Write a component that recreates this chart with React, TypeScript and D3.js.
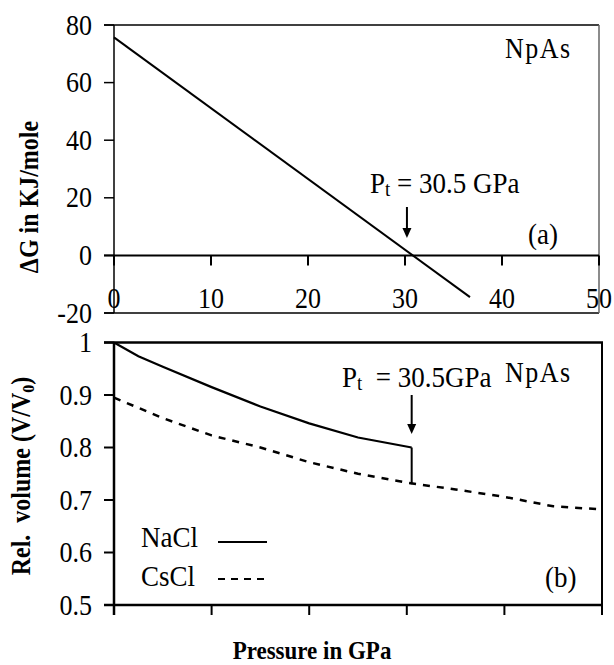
import React from "react";
import * as d3 from "d3";

// ---- Data ----
const pressureTicks = [0, 10, 20, 30, 40, 50];
const gTicks = [-20, 0, 20, 40, 60, 80];
const vTicks = [0.5, 0.6, 0.7, 0.8, 0.9, 1];

const dGPressure = [0, 36.7];
const dGValues = [75.7, -14.5];

const naclPressure = [0, 2.5, 5, 10, 15, 20, 25, 30.5];
const naclVolume = [1.0, 0.974, 0.954, 0.915, 0.878, 0.846, 0.819, 0.8];

const cscPressure = [0, 5, 10, 15, 20, 25, 30, 35, 40, 45, 50];
const csclVolume = [0.895, 0.856, 0.823, 0.8, 0.772, 0.75, 0.733, 0.72, 0.706, 0.688, 0.682];

const transitionPressure = 30.5;
const transitionVolumes = [0.8, 0.73];

const FONT = "Liberation Serif, Times New Roman, Times, serif";
const STRETCH = 1.1;

type TxtProps = {
  x: number;
  y: number;
  size: number;
  anchor?: "start" | "middle" | "end";
  bold?: boolean;
  rotate?: number;
  ls?: number;
  children?: React.ReactNode;
};

function Txt({ x, y, size, anchor = "start", bold = false, rotate = 0, ls, children }: TxtProps) {
  return (
    <text
      transform={`translate(${x},${y}) rotate(${rotate}) scale(1,${STRETCH})`}
      textAnchor={anchor}
      letterSpacing={ls}
      style={{
        fontFamily: FONT,
        fontSize: size,
        fontWeight: bold ? "bold" : "normal",
        whiteSpace: "pre",
      }}
    >
      {children}
    </text>
  );
}

export default function App() {
  const xT = d3.scaleLinear().domain([0, 50]).range([114, 599]);
  const yT = d3.scaleLinear().domain([-20, 80]).range([313, 25]);
  const xB = d3.scaleLinear().domain([0, 50]).range([114, 602]);
  const yB = d3.scaleLinear().domain([0.5, 1]).range([605, 342.5]);

  const lineT = d3
    .line<number>()
    .x((_, i) => xT(dGPressure[i]))
    .y((d) => yT(d));
  const naclLine = d3
    .line<number>()
    .x((_, i) => xB(naclPressure[i]))
    .y((d) => yB(d));
  const csclLine = d3
    .line<number>()
    .x((_, i) => xB(cscPressure[i]))
    .y((d) => yB(d));

  const arrow = (x: number, y1: number, y2: number) => (
    <g>
      <line x1={x} x2={x} y1={y1} y2={y2 - 8} stroke="#000" strokeWidth={2} />
      <path d={`M${x - 4.5},${y2 - 10} L${x + 4.5},${y2 - 10} L${x},${y2} Z`} fill="#000" />
    </g>
  );

  return (
    <svg
      width={614}
      height={665}
      style={{ position: "absolute", left: 0, top: 0, background: "#fff", fontFamily: FONT }}
    >
      <rect x={0} y={0} width={614} height={665} fill="#fff" />

      {/* ===== Top panel (a) ===== */}
      <line x1={104} x2={599} y1={yT(80)} y2={yT(80)} stroke="#000" strokeWidth={1.5} />
      <line x1={104} x2={599} y1={yT(-20)} y2={yT(-20)} stroke="#000" strokeWidth={1.5} />
      <line x1={599} x2={599} y1={yT(80)} y2={yT(-20)} stroke="#666" strokeWidth={1.5} />
      <line x1={xT(0)} x2={xT(0)} y1={yT(80)} y2={yT(-20)} stroke="#000" strokeWidth={1.5} />
      <line x1={104} x2={599} y1={yT(0)} y2={yT(0)} stroke="#000" strokeWidth={2} />
      {pressureTicks.map((t) => (
        <line key={"tt" + t} x1={xT(t)} x2={xT(t)} y1={yT(0)} y2={yT(0) + 10} stroke="#000" strokeWidth={2} />
      ))}
      {gTicks.map((t) => (
        <g key={"gt" + t}>
          <line x1={104} x2={xT(0)} y1={yT(t)} y2={yT(t)} stroke="#000" strokeWidth={1.5} />
          <Txt x={92} y={yT(t) + 9.5} size={26} anchor="end">
            {String(t)}
          </Txt>
        </g>
      ))}
      {pressureTicks.map((t) => (
        <Txt key={"tl" + t} x={xT(t)} y={308} size={26} anchor="middle">
          {String(t)}
        </Txt>
      ))}
      <path d={lineT(dGValues) || ""} fill="none" stroke="#000" strokeWidth={2} />
      <Txt x={370} y={193} size={27}>
        P
        <tspan style={{ fontSize: 19 }} dy={3}>t</tspan>
        <tspan dy={-3}> = 30.5 GPa</tspan>
      </Txt>
      {arrow(xT(30.2), 207, 238)}
      <Txt x={505} y={58} size={26} ls={1.5}>
        NpAs
      </Txt>
      <Txt x={528} y={244} size={27}>
        (a)
      </Txt>
      <Txt x={38} y={197} size={24} bold rotate={-90} anchor="middle">
        ΔG in KJ/mole
      </Txt>

      {/* ===== Bottom panel (b) ===== */}
      <line x1={104} x2={603} y1={yB(1)} y2={yB(1)} stroke="#000" strokeWidth={2.5} />
      <line x1={602} x2={602} y1={yB(1)} y2={yB(0.5)} stroke="#000" strokeWidth={2} />
      <line x1={xB(0)} x2={xB(0)} y1={yB(1)} y2={yB(0.5) + 10} stroke="#000" strokeWidth={2.5} />
      <line x1={104} x2={603} y1={yB(0.5)} y2={yB(0.5)} stroke="#000" strokeWidth={2.5} />
      {pressureTicks.map((t) => (
        <line key={"bt" + t} x1={xB(t)} x2={xB(t)} y1={yB(0.5)} y2={yB(0.5) + 10} stroke="#000" strokeWidth={2} />
      ))}
      {vTicks.map((t) => (
        <g key={"vt" + t}>
          <line x1={104} x2={xB(0)} y1={yB(t)} y2={yB(t)} stroke="#000" strokeWidth={2} />
          <Txt x={92} y={yB(t) + 9.5} size={26} anchor="end">
            {String(t)}
          </Txt>
        </g>
      ))}
      <path d={naclLine(naclVolume) || ""} fill="none" stroke="#000" strokeWidth={2.2} />
      <path
        d={csclLine(csclVolume) || ""}
        fill="none"
        stroke="#000"
        strokeWidth={2.5}
        strokeDasharray="7,7"
      />
      <line
        x1={xB(transitionPressure)}
        x2={xB(transitionPressure)}
        y1={yB(transitionVolumes[0])}
        y2={yB(transitionVolumes[1])}
        stroke="#000"
        strokeWidth={2}
      />
      <Txt x={342} y={387} size={27}>
        P
        <tspan style={{ fontSize: 19 }} dy={3}>t</tspan>
        <tspan dy={-3}>{"  = 30.5GPa"}</tspan>
      </Txt>
      <Txt x={505} y={382} size={26} ls={1.5}>
        NpAs
      </Txt>
      {arrow(xB(30.5), 395, 434)}
      <Txt x={545} y={587} size={27}>
        (b)
      </Txt>
      <Txt x={141} y={547} size={27}>
        NaCl
      </Txt>
      <line x1={218} x2={267} y1={542} y2={542} stroke="#000" strokeWidth={2.2} />
      <Txt x={141} y={586} size={27}>
        CsCl
      </Txt>
      <line x1={218} x2={267} y1={579} y2={579} stroke="#000" strokeWidth={2} strokeDasharray="7,6" />
      <Txt x={30} y={476} size={24} bold rotate={-90} anchor="middle">
        {"Rel.  volume (V/V"}
        <tspan style={{ fontSize: 16 }} dy={4}>0</tspan>
        <tspan dy={-4}>)</tspan>
      </Txt>
      <Txt x={312} y={659} size={23} bold anchor="middle">
        Pressure in GPa
      </Txt>
    </svg>
  );
}
